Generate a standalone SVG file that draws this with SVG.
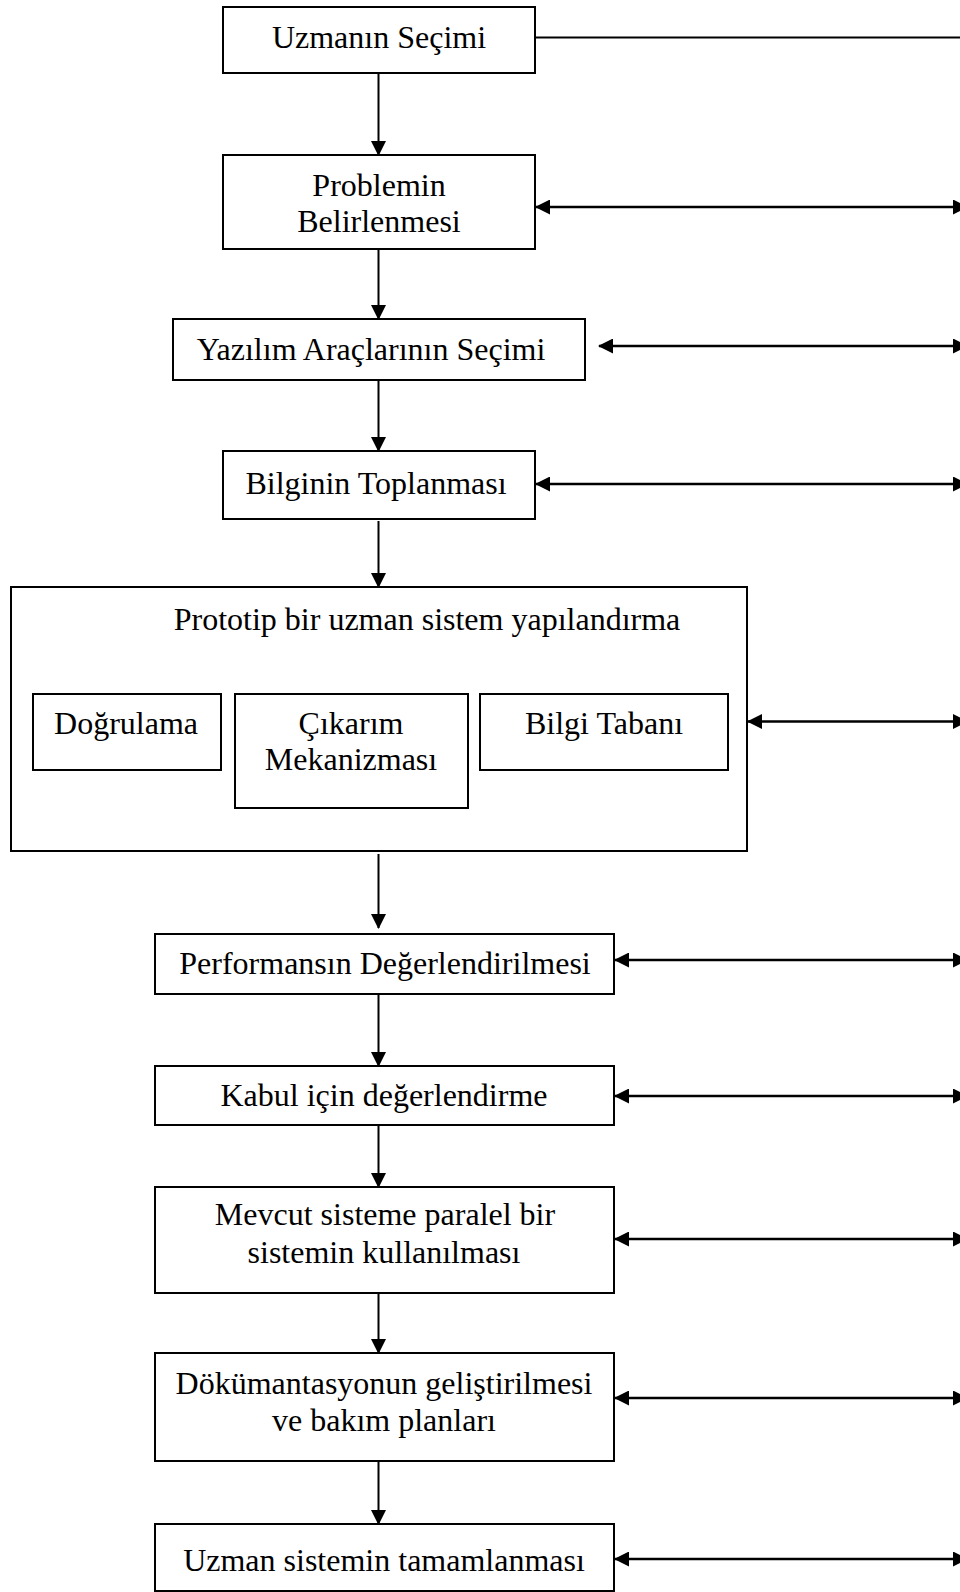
<svg xmlns="http://www.w3.org/2000/svg" width="960" height="1592" viewBox="0 0 960 1592">
<defs>
<style>
.box{fill:#fff;stroke:#000;stroke-width:2}
.t{font-family:"Liberation Serif","Times New Roman",serif;font-size:32px;fill:#000;text-anchor:middle}
.v{stroke:#000;stroke-width:2;fill:none;marker-end:url(#ah)}
.h{stroke:#000;stroke-width:2.6;fill:none;marker-start:url(#ah);marker-end:url(#ah)}
.p{stroke:#000;stroke-width:2;fill:none}
</style>
<marker id="ah" viewBox="0 0 15 15" refX="14" refY="7.5" markerWidth="15" markerHeight="15" markerUnits="userSpaceOnUse" orient="auto-start-reverse">
<path d="M0,0 L15,7.5 L0,15 z" fill="#000"/>
</marker>
</defs>
<rect width="960" height="1592" fill="#fff"/>

<g id="n1"><rect class="box" x="223" y="7" width="312" height="66"/><text class="t" x="379" y="48">Uzmanın Seçimi</text></g>
<g id="n2"><rect class="box" x="223" y="155" width="312" height="94"/><text class="t" x="379" y="196">Problemin</text><text class="t" x="379" y="232">Belirlenmesi</text></g>
<g id="n3"><rect class="box" x="173" y="319" width="412" height="61"/><text class="t" x="371" y="360">Yazılım Araçlarının Seçimi</text></g>
<g id="n4"><rect class="box" x="223" y="451" width="312" height="68"/><text class="t" x="376" y="494">Bilginin Toplanması</text></g>
<g id="n5"><rect class="box" x="11" y="587" width="736" height="264"/><text class="t" x="427" y="630">Prototip bir uzman sistem yapılandırma</text></g>
<g id="n5a"><rect class="box" x="33" y="694" width="188" height="76"/><text class="t" x="126" y="734">Doğrulama</text></g>
<g id="n5b"><rect class="box" x="235" y="694" width="233" height="114"/><text class="t" x="351" y="734">Çıkarım</text><text class="t" x="351" y="770">Mekanizması</text></g>
<g id="n5c"><rect class="box" x="480" y="694" width="248" height="76"/><text class="t" x="604" y="734">Bilgi Tabanı</text></g>
<g id="n6"><rect class="box" x="155" y="934" width="459" height="60"/><text class="t" x="385" y="974">Performansın Değerlendirilmesi</text></g>
<g id="n7"><rect class="box" x="155" y="1066" width="459" height="59"/><text class="t" x="384" y="1106">Kabul için değerlendirme</text></g>
<g id="n8"><rect class="box" x="155" y="1187" width="459" height="106"/><text class="t" x="385" y="1225">Mevcut sisteme paralel bir</text><text class="t" x="384" y="1263">sistemin kullanılması</text></g>
<g id="n9"><rect class="box" x="155" y="1353" width="459" height="108"/><text class="t" x="384" y="1394">Dökümantasyonun geliştirilmesi</text><text class="t" x="384" y="1431">ve bakım planları</text></g>
<g id="n10"><rect class="box" x="155" y="1524" width="459" height="67"/><text class="t" x="384" y="1571">Uzman sistemin tamamlanması</text></g>

<g id="connectors">
<line class="p" x1="535" y1="37.5" x2="960" y2="37.5"/>
<line class="v" x1="378.5" y1="73" x2="378.5" y2="155"/>
<line class="v" x1="378.5" y1="249" x2="378.5" y2="319"/>
<line class="v" x1="378.5" y1="380" x2="378.5" y2="451"/>
<line class="v" x1="378.5" y1="521" x2="378.5" y2="587"/>
<line class="v" x1="378.5" y1="854" x2="378.5" y2="928"/>
<line class="v" x1="378.5" y1="994" x2="378.5" y2="1066"/>
<line class="v" x1="378.5" y1="1125" x2="378.5" y2="1187"/>
<line class="v" x1="378.5" y1="1293" x2="378.5" y2="1353"/>
<line class="v" x1="378.5" y1="1461" x2="378.5" y2="1524"/>
<line class="h" x1="536" y1="207" x2="967" y2="207"/>
<line class="h" x1="599" y1="346" x2="967" y2="346"/>
<line class="h" x1="536" y1="484" x2="967" y2="484"/>
<line class="h" x1="748" y1="721.5" x2="967" y2="721.5"/>
<line class="h" x1="615" y1="960" x2="967" y2="960"/>
<line class="h" x1="615" y1="1096" x2="967" y2="1096"/>
<line class="h" x1="615" y1="1239" x2="967" y2="1239"/>
<line class="h" x1="615" y1="1398" x2="967" y2="1398"/>
<line class="h" x1="615" y1="1559" x2="967" y2="1559"/>
</g>
</svg>
